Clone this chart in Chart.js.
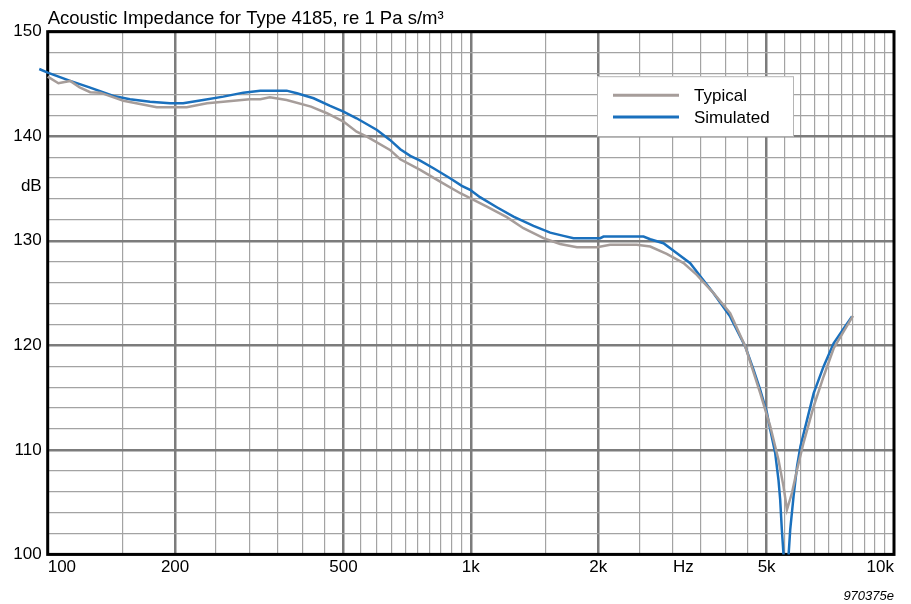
<!DOCTYPE html>
<html>
<head>
<meta charset="utf-8">
<style>
html,body{margin:0;padding:0;background:#fff;}
#wrap{width:911px;height:604px;position:relative;}
</style>
<script src="https://cdn.jsdelivr.net/npm/chart.js@4.4.1/dist/chart.umd.min.js"></script>
</head>
<body>
<div id="wrap"><canvas id="c" width="911" height="604"></canvas></div>
<script>
// ---- data ----
const typicalHz = [100,106,113,119,126,133,151,181,213,238,260,300,318,335,367,419,457,500,537,568,644,681,759,846,944,996,1091,1216,1331,1485,1625,1781,1987,2133,2466,2654,2903,3182,3420,3746,4100,4452,4829,5100,5333,5482,5585,5738,5900,6110,6460,6818,7200,7600,8000];
const typicalDb = [145.70,145.07,145.29,144.68,144.21,144.17,143.40,142.77,142.77,143.15,143.31,143.54,143.54,143.73,143.47,142.83,142.20,141.40,140.44,139.96,138.69,137.80,136.78,135.66,134.55,134.07,133.27,132.26,131.20,130.25,129.70,129.39,129.39,129.61,129.61,129.45,128.75,127.86,126.74,124.99,123.08,119.88,115.43,112.24,109.05,106.50,104.27,105.87,108.10,110.65,114.15,117.02,119.70,121.30,122.82];

const simulatedHz = [95.5,100,113,126,143,156.5,174.5,194.5,209,233,260,290,318,367,388,425,465,500,537,600,644,681,719,759,816,893,952,996,1051,1152,1261,1406,1540,1656,1748,2022,2058,2559,2654,2852,3069,3299,3515,3746,4100,4452,4656,4829,5010,5100,5239,5333,5383,5432,5482,5530,5636,5685,5789,5900,6009,6230,6460,6818,7200,7600,7956];
const simulatedDb = [146.43,146.08,145.29,144.65,143.85,143.54,143.31,143.15,143.15,143.47,143.79,144.17,144.36,144.36,144.11,143.63,142.90,142.35,141.72,140.60,139.65,138.76,138.12,137.67,136.94,135.98,135.25,134.87,134.17,133.21,132.31,131.42,130.78,130.47,130.25,130.25,130.40,130.40,130.15,129.77,128.81,127.86,126.42,124.99,122.75,119.88,117.66,115.75,113.52,111.92,109.69,107.14,105.23,102.36,100.00,97.00,100.00,102.36,105.54,108.41,110.32,112.87,115.43,117.98,120.20,121.60,122.75];

// ---- axes / tick labels ----
const xGridHz = [100,150,200,250,300,350,400,450,500,550,600,650,700,750,800,850,900,950,1000,1500,2000,2500,3000,3500,4000,4500,5000,5500,6000,6500,7000,7500,8000,8500,9000,9500,10000];
const xMajorHz = [200,500,1000,2000,5000];
const xLabelHz = [100,200,500,1000,2000,5000,10000];
const xLabelText = ['100','200','500','1k','2k','5k','10k'];
const xUnitHz = 3180;
const xUnitText = 'Hz';

const yGridDb = [100,102,104,106,108,110,112,114,116,118,120,122,124,126,128,130,132,134,136,138,140,142,144,146,148,150];
const yLabelDb = [100,110,120,130,140,150];
const yLabelText = ['100','110','120','130','140','150'];
const yUnitDb = 135.2;
const yUnitText = 'dB';

const seriesNames = ['Typical','Simulated'];
const titleText = 'Acoustic Impedance for Type 4185, re 1 Pa s/m\u00B3';
const noteText = '970375e';

// ---- styling ----
const FONT = "'Liberation Sans', Arial, Helvetica, sans-serif";
Chart.defaults.font.family = FONT;
Chart.defaults.color = '#000';
const MINOR_GRID = '#a3a3a3';
const MAJOR_GRID = '#7c7c7c';

function near(a,b){return Math.abs(a-b) < 1e-6;}

const xTicksAll = xGridHz.concat([xUnitHz]).sort((a,b)=>a-b);
const yTicksAll = yGridDb.concat([yUnitDb]).sort((a,b)=>a-b);

const frameAndLegend = {
  id:'frameAndLegend',
  beforeDatasetsDraw(chart){
    const {ctx, chartArea:a} = chart;
    ctx.save();
    ctx.strokeStyle = '#000';
    ctx.lineWidth = 3;
    ctx.strokeRect(a.left, a.top, a.right - a.left, a.bottom - a.top);
    ctx.restore();
  },
  afterDraw(chart){
    const {ctx, chartArea:a} = chart;
    const bx = a.right - 297, by = a.top + 44.5, bw = 196, bh = 60;
    ctx.save();
    ctx.fillStyle = '#fff';
    ctx.fillRect(bx, by, bw, bh);
    ctx.strokeStyle = '#b5b5b5';
    ctx.lineWidth = 1;
    ctx.strokeRect(bx + 0.5, by + 0.5, bw, bh);
    ctx.font = '17px ' + FONT;
    ctx.textBaseline = 'middle';
    ctx.fillStyle = '#000';
    chart.data.datasets.forEach((ds, i) => {
      const ly = by + 19 + i * 21.7;
      ctx.strokeStyle = ds.borderColor;
      ctx.lineWidth = 3;
      ctx.beginPath();
      ctx.moveTo(bx + 16, ly);
      ctx.lineTo(bx + 82, ly);
      ctx.stroke();
      ctx.fillText(ds.label, bx + 97, ly + 1.5);
    });
    ctx.restore();
  }
};

new Chart(document.getElementById('c'), {
  type: 'line',
  data: {
    datasets: [
      {
        label: seriesNames[0],
        data: typicalHz.map((x,i)=>({x:x, y:typicalDb[i]})),
        borderColor: '#a69d9a',
        borderWidth: 2.5,
        pointRadius: 0,
        tension: 0,
        clip: {left: 12, top: 0, right: 0, bottom: 0}
      },
      {
        label: seriesNames[1],
        data: simulatedHz.map((x,i)=>({x:x, y:simulatedDb[i]})),
        borderColor: '#1a70bd',
        borderWidth: 2.5,
        pointRadius: 0,
        tension: 0,
        clip: {left: 12, top: 0, right: 0, bottom: 0}
      }
    ]
  },
  options: {
    responsive: false,
    animation: false,
    devicePixelRatio: 1,
    layout: { padding: { left: 0, right: 17, top: 0, bottom: 0 } },
    plugins: {
      legend: { display: false },
      tooltip: { enabled: false },
      title: {
        display: true,
        text: titleText,
        align: 'start',
        fullSize: false,
        color: '#000',
        font: { size: 18.5, weight: 'normal' },
        padding: { top: 8, bottom: 1.5 }
      },
      subtitle: {
        display: true,
        text: noteText,
        position: 'bottom',
        align: 'end',
        fullSize: false,
        color: '#000',
        font: { size: 13, style: 'italic', weight: 'normal' },
        padding: { top: 4, bottom: 0 }
      }
    },
    scales: {
      x: {
        type: 'logarithmic',
        min: 100,
        max: 10000,
        afterBuildTicks: s => { s.ticks = xTicksAll.map(v => ({value: v})); },
        afterFit: s => { s.height = 30; },
        ticks: {
          autoSkip: false,
          maxRotation: 0,
          minRotation: 0,
          align: 'inner',
          padding: 3,
          font: { size: 17 },
          callback: v => {
            if (near(v, xUnitHz)) return xUnitText;
            const k = xLabelHz.findIndex(t => near(t, v));
            return k >= 0 ? xLabelText[k] : '';
          }
        },
        grid: {
          drawTicks: false,
          color: c => {
            const v = c.tick ? c.tick.value : 0;
            if (near(v, xUnitHz)) return 'rgba(0,0,0,0)';
            return xMajorHz.some(t => near(t, v)) ? MAJOR_GRID : MINOR_GRID;
          },
          lineWidth: c => {
            const v = c.tick ? c.tick.value : 0;
            return xMajorHz.some(t => near(t, v)) ? 2.5 : 1.2;
          }
        },
        border: { display: false }
      },
      y: {
        type: 'linear',
        min: 100,
        max: 150,
        afterBuildTicks: s => { s.ticks = yTicksAll.map(v => ({value: v})); },
        afterFit: s => { s.width = 47.7; },
        ticks: {
          autoSkip: false,
          padding: 6,
          font: { size: 17 },
          callback: v => {
            if (near(v, yUnitDb)) return yUnitText;
            const k = yLabelDb.findIndex(t => near(t, v));
            return k >= 0 ? yLabelText[k] : '';
          }
        },
        grid: {
          drawTicks: false,
          color: c => {
            const v = c.tick ? c.tick.value : 0;
            if (near(v, yUnitDb)) return 'rgba(0,0,0,0)';
            return (Math.abs(v % 10) < 1e-6) ? MAJOR_GRID : MINOR_GRID;
          },
          lineWidth: c => {
            const v = c.tick ? c.tick.value : 0;
            return (Math.abs(v % 10) < 1e-6) ? 2.5 : 1.2;
          }
        },
        border: { display: false }
      }
    }
  },
  plugins: [frameAndLegend]
});
</script>
</body>
</html>
